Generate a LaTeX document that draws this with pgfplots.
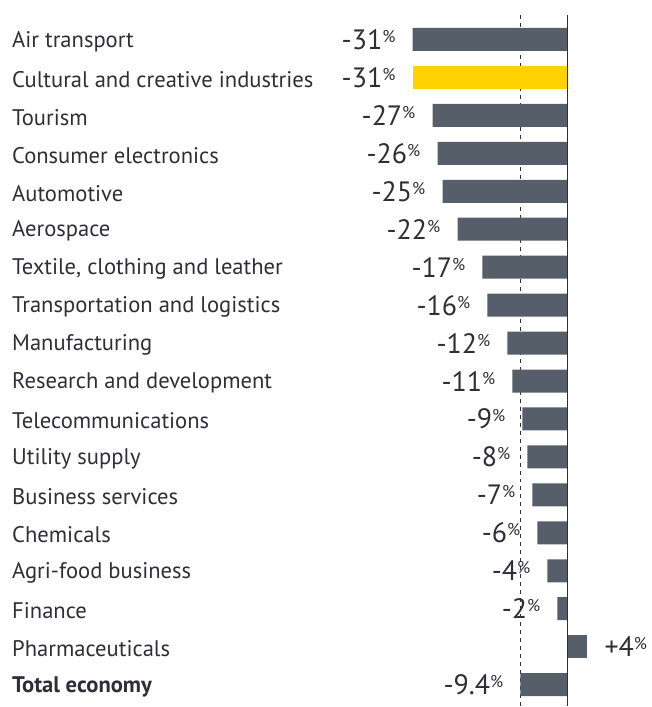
\documentclass[border=0pt]{standalone}
\usepackage{pgfplots}
\pgfplotsset{compat=1.18}
\usepackage{fontspec}
\setmainfont{PT Sans}
\definecolor{eytext}{HTML}{2E2E38}
\definecolor{eybar}{HTML}{555E69}
\definecolor{eyyellow}{HTML}{FFD200}
\newcommand\pct{\raisebox{7pt}{\fontsize{17}{17}\selectfont\%}}
\begin{document}
\begin{tikzpicture}
\begin{axis}[
  scale only axis, width=652pt, height=707pt,
  xmin=-113.6, xmax=16.8, ymin=-1.04, ymax=17.57, y dir=reverse,
  axis line style={draw=none}, tick style={draw=none},
  xtick=\empty, ytick={0,...,17},
  yticklabels={Air transport, Cultural and creative industries, Tourism, Consumer electronics, Automotive, Aerospace, {Textile, clothing and leather}, Transportation and logistics, Manufacturing, Research and development, Telecommunications, Utility supply, Business services, Chemicals, Agri-food business, Finance, Pharmaceuticals, \textbf{Total economy}},
  yticklabel style={anchor=west, xshift=12pt, yshift=-2pt, inner sep=0pt, font=\fontsize{22.6}{26}\selectfont, text=eytext},
  clip=false,
  bar width=23pt,
]
\addplot[eytext, line width=1.1pt, dash pattern=on 4pt off 4pt, forget plot] coordinates {(-9.4,-0.645) (-9.4,17.57)};
\addplot[xbar, bar shift=0pt, fill=eybar, draw=none, point meta=x,
  nodes near coords={\pgfmathprintnumber[assume math mode=true]{\pgfplotspointmeta}\pct},
  every node near coord/.append style={anchor=base east, xshift=-17pt, yshift=-10pt, inner sep=0pt, text=eytext, font=\fontsize{28}{30}\selectfont}]
  coordinates {(-31,0) (-27,2) (-26,3) (-25,4) (-22,5) (-17,6) (-16,7) (-12,8) (-11,9) (-9,10) (-8,11) (-7,12) (-6,13) (-4,14) (-2,15) (-9.4,17)};
\addplot[xbar, bar shift=0pt, fill=eyyellow, draw=none, point meta=x,
  nodes near coords={\pgfmathprintnumber[assume math mode=true]{\pgfplotspointmeta}\pct},
  every node near coord/.append style={anchor=base east, xshift=-17pt, yshift=-10pt, inner sep=0pt, text=eytext, font=\fontsize{28}{30}\selectfont}]
  coordinates {(-31,1)};
\addplot[xbar, bar shift=0pt, fill=eybar, draw=none, point meta=x,
  nodes near coords={\pgfmathprintnumber[showpos,assume math mode=true]{\pgfplotspointmeta}\pct},
  every node near coord/.append style={anchor=base west, xshift=17pt, yshift=-10pt, inner sep=0pt, text=eytext, font=\fontsize{28}{30}\selectfont}]
  coordinates {(4,16)};
\addplot[eytext, line width=1.5pt, forget plot] coordinates {(0,-0.645) (0,17.57)};
\end{axis}
\end{tikzpicture}
\end{document}
